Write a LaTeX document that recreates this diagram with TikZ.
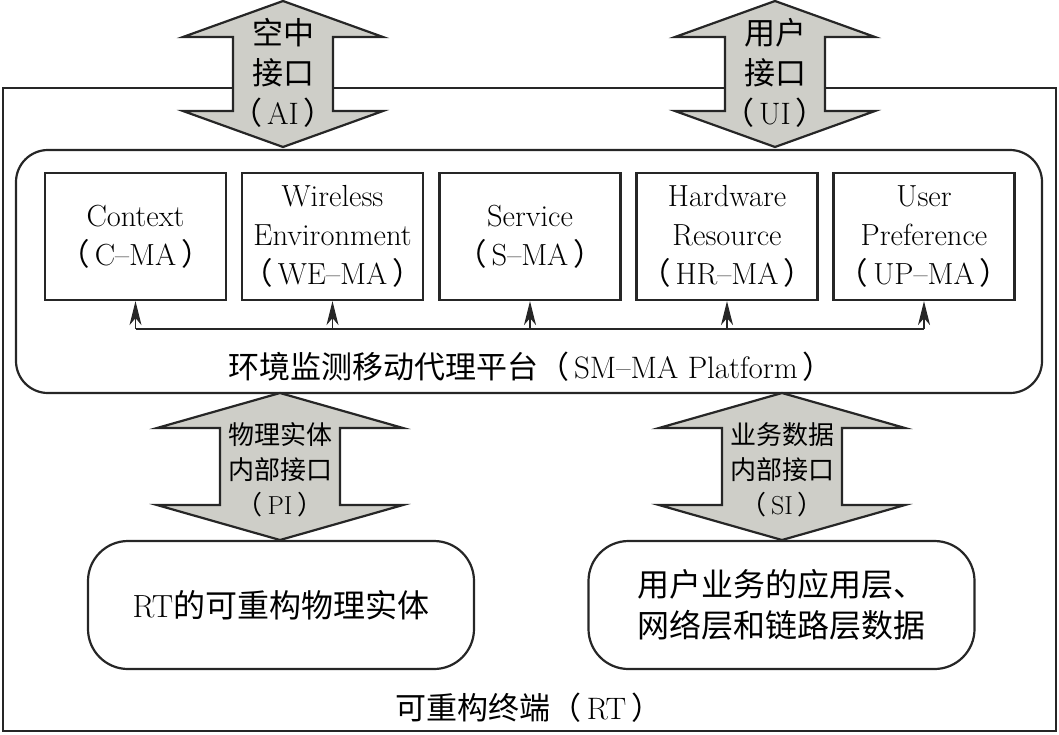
\documentclass[tikz,border=0pt]{standalone}
\usepackage{fontspec}
\newfontfamily\cjk{Noto Sans CJK SC}
\usetikzlibrary{arrows.meta}
\definecolor{pipegray}{RGB}{206,206,200}
\newcommand{\zh}[1]{{\cjk #1}}
\newcommand{\zlp}{{\cjk （}\kern5pt}
\newcommand{\zrp}{\kern5pt{\cjk ）}}
\newcommand{\bigpipe}[6]{%
  \draw[pipe] (#1,#2) -- (#1+#4,#2+#6) -- (#1+#5,#2+#6) -- (#1+#5,#3-#6) -- (#1+#4,#3-#6)
    -- (#1,#3) -- (#1-#4,#3-#6) -- (#1-#5,#3-#6) -- (#1-#5,#2+#6) -- (#1-#4,#2+#6) -- cycle;}
\begin{document}
\begin{tikzpicture}[x=1pt,y=-1pt,
        frame/.style={draw=black!85,line width=2.4pt,rectangle},
        plat/.style={draw=black!85,line width=2.2pt,rectangle,rounded corners=32pt,minimum width=1026,minimum height=243},
        agent/.style={draw=black!85,line width=2.2pt,rectangle,minimum width=181,minimum height=127,inner xsep=0pt,align=center,font=\fontsize{30.5}{39}\selectfont},
        entity/.style={draw=black!85,line width=2.2pt,rectangle,rounded corners=40pt,minimum width=386,minimum height=128,align=center,font=\fontsize{32}{41}\selectfont},
        pipe/.style={draw=black!85,line width=2.2pt,fill=pipegray},
        pipetext/.style={align=center,font=\fontsize{31}{40}\selectfont},
        innertext/.style={align=center,font=\fontsize{26}{35}\selectfont},
        lbl/.style={font=\fontsize{31}{38}\selectfont},
        bus/.style={draw=black!85,line width=1.4pt}
      ]
      \useasboundingbox (0,0) rectangle (1059,734);
      \node[frame,minimum width=1053,minimum height=643] (rt) at (529.5,409.5) {};
      \node[plat] (smma) at (529,271.5) {};
      \node[agent] (cma) at (135.5,236.5) {Context\\\zlp C–MA\zrp};
      \node[agent] (wema) at (332.5,236.5) {Wireless\\Environment\\\zlp WE–MA\zrp};
      \node[agent] (sma) at (530,236.5) {Service\\\zlp S–MA\zrp};
      \node[agent] (hrma) at (727,236.5) {Hardware\\Resource\\\zlp HR–MA\zrp};
      \node[agent] (upma) at (924,236.5) {User\\Preference\\\zlp UP–MA\zrp};
      \coordinate (bus) at (0,329);
      \draw[bus] (cma.south |- bus) -- (upma.south |- bus);
      \foreach \n in {cma,wema,sma,hrma,upma}
        \draw[bus,-{Stealth[length=24pt,width=12pt,inset=7pt]}] (\n.south |- bus) -- (\n.south);
      \node[lbl] (smmalabel) at (531,367) {\zh{环境监测移动代理平台}\zlp SM–MA Platform\zrp};
      \node[entity] (phys) at (281,605) {RT\zh{的可重构物理实体}};
      \node[entity] (data) at (781.5,605) {\zh{用户业务的应用层、}\\\zh{网络层和链路层数据}};
      \node[lbl] (rtlabel) at (529,708) {\zh{可重构终端}\zlp RT\zrp};
      \bigpipe{283}{1}{147}{100}{50}{36}
      \bigpipe{775}{1}{147}{100}{50}{36}
      \bigpipe{280}{393}{540}{123}{60}{35}
      \bigpipe{782}{393}{540}{123}{60}{35}
      \node[pipetext] (ai) at (283,73) {\zh{空中}\\\zh{接口}\\\zlp AI\zrp};
      \node[pipetext] (ui) at (775,73) {\zh{用户}\\\zh{接口}\\\zlp UI\zrp};
      \node[innertext] (pi) at (280,470) {\zh{物理实体}\\\zh{内部接口}\\\zlp PI\zrp};
      \node[innertext] (si) at (782,470) {\zh{业务数据}\\\zh{内部接口}\\\zlp SI\zrp};
    \end{tikzpicture}
\end{document}
